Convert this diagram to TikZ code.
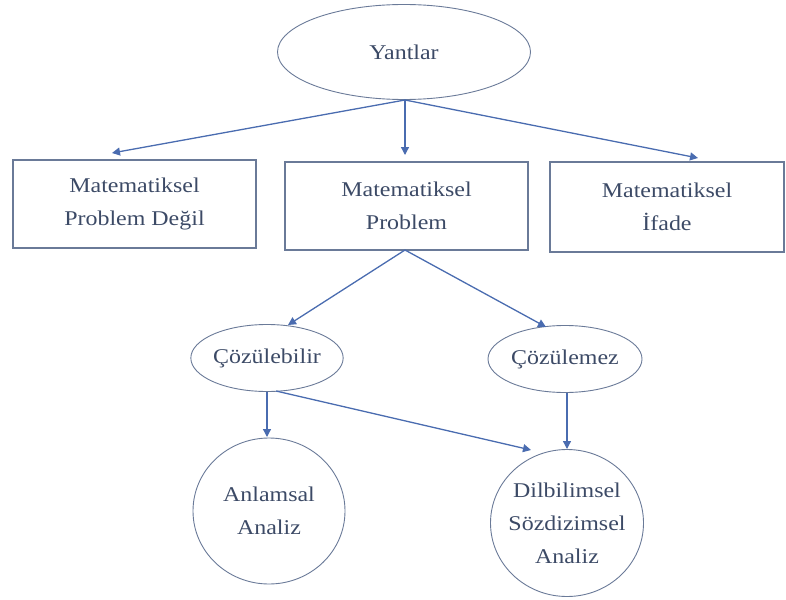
\documentclass[tikz,border=0pt]{standalone}
\usepackage{fontspec}
\setmainfont{Liberation Serif}[FakeStretch=1.14]
\usetikzlibrary{arrows.meta,shapes.geometric}
\definecolor{lineblue}{HTML}{4A6CB0}
\definecolor{boxgray}{HTML}{6A7A98}
\definecolor{txt}{HTML}{3C4A66}
\tikzset{
  every node/.style={font=\fontsize{21}{33}\selectfont, text=txt, align=center},
  ell/.style={draw=boxgray, line width=0.9pt, ellipse, inner sep=0pt},
  circ/.style={draw=boxgray, line width=0.9pt, ellipse, inner sep=-12pt},
  box/.style={draw=boxgray, line width=1.1pt, rectangle, inner sep=0pt},
  arr/.style={draw=lineblue, line width=1.3pt, -{Triangle[length=8pt,width=8pt]}}
}
\begin{document}
\begin{tikzpicture}[x=1pt,y=-1pt]
\useasboundingbox (0,0) rectangle (786,599);
\node[ell, minimum width=253pt, minimum height=95pt] (yan) at (404,52) {Yantlar};
\node[box, minimum width=243pt, minimum height=88pt] (mpd) at (134.5,204) {Matematiksel\\Problem Değil};
\node[box, minimum width=243pt, minimum height=88pt] (mp) at (406.5,206) {Matematiksel\\Problem};
\node[box, minimum width=234pt, minimum height=90pt] (mi) at (667,207) {Matematiksel\\İfade};
\node[ell, minimum width=150pt, minimum height=67pt] (coz) at (267,358) {Çözülebilir};
\node[ell, minimum width=154pt, minimum height=67pt] (cze) at (565,359) {Çözülemez};
\node[circ, minimum width=152pt, minimum height=146pt] (anl) at (269,511) {Anlamsal\\Analiz};
\node[circ, minimum width=153pt, minimum height=147pt] (dil) at (567,523) {Dilbilimsel\\Sözdizimsel\\Analiz};
\coordinate (yb) at (405,100);
\coordinate (mb) at (405,250);
\coordinate (cb) at (267,391.5);
\coordinate (cb2) at (276,391);
\coordinate (zb) at (567,392.5);
\draw[arr] (yb) -- (112,153);
\draw[arr] (yb) -- (405,155);
\draw[arr] (yb) -- (698,158);
\draw[arr] (mb) -- (288,325);
\draw[arr] (mb) -- (546,327);
\draw[arr] (cb) -- (267,437);
\draw[arr] (cb2) -- (531,450);
\draw[arr] (zb) -- (567,449);
\end{tikzpicture}
\end{document}
